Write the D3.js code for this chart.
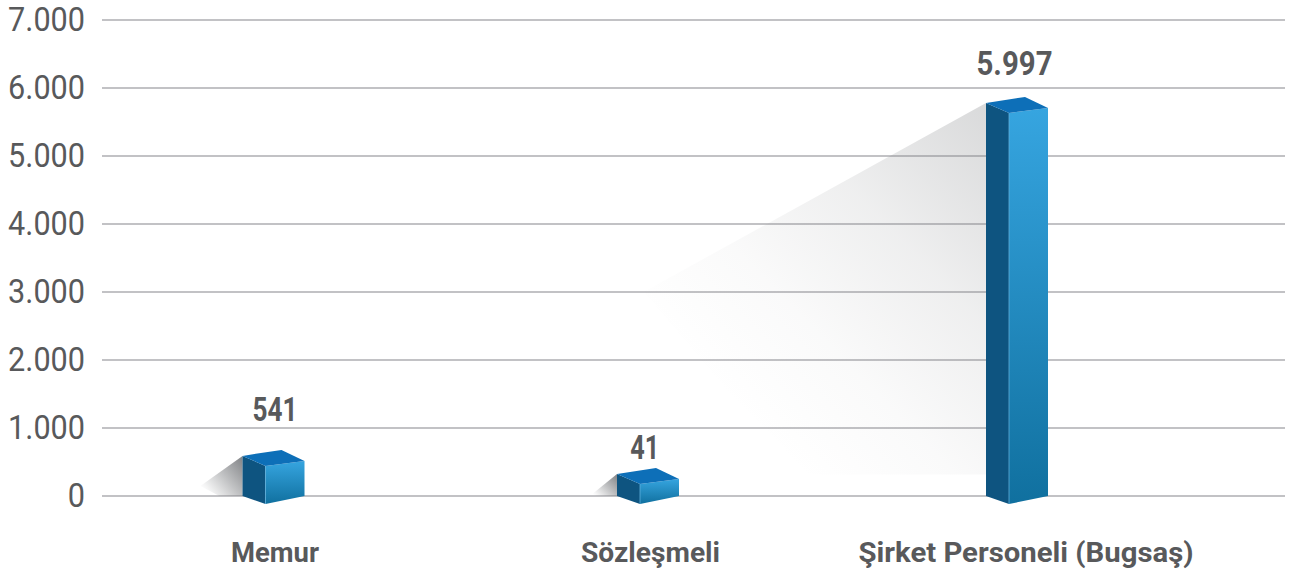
<!DOCTYPE html>
<html>
<head>
<meta charset="utf-8">
<script src="https://cdnjs.cloudflare.com/ajax/libs/d3/7.8.5/d3.min.js"></script>
<style>
  html, body { margin: 0; padding: 0; background: #fff; }
  svg { display: block; }
  text { font-family: Roboto, sans-serif; fill: #58595b; }
</style>
</head>
<body>
<div id="chart"></div>
<script>
"use strict";

// Data
var categories = ["Memur", "Sözleşmeli", "Şirket Personeli (Bugsaş)"];
var values = [541, 41, 5997];
// the boxes are not drawn true to their labels, this is the level (in axis
// units) that the left top corner of each box reaches in the picture
var drawnLevels = [590, 325, 5780];
var yTicks = [0, 1000, 2000, 3000, 4000, 5000, 6000, 7000];

var width = 1305, height = 576;

var svg = d3.select("#chart").append("svg")
  .attr("width", width)
  .attr("height", height);

var y = d3.scaleLinear().domain([0, 7000]).range([496, 20]);

// boxes, value labels and category labels each sit on a slightly different spacing
var xBox = d3.scalePoint().domain(categories).range([273.5, 1017]);
var xValue = d3.scalePoint().domain(categories).range([275, 1014.5]);
var xLabel = d3.scalePoint().domain(categories).range([275, 1026]);

// hand tuning of the layout, per category
var boxNudge = [0, 2.75, 0];
var valueGap = [35, 15, 28];
var valueWidth = [45, 29, 76];
var labelWidth = [88, 139, 335];

// Turkish number format, 7.000
var fmt = d3.formatLocale({ decimal: ",", thousands: ".", grouping: [3], currency: ["", ""] }).format(",d");

/*
 * Gradients
 */
var defs = svg.append("defs");

var frontGrad = defs.append("linearGradient")
  .attr("id", "frontGrad")
  .attr("x1", 0).attr("y1", 0).attr("x2", 0).attr("y2", 1);
frontGrad.append("stop").attr("offset", "0%").attr("stop-color", "#36a5e0");
frontGrad.append("stop").attr("offset", "100%").attr("stop-color", "#10709f");

// the tall box throws a pale shadow, the small ones a darker one
function shadowGradient(id, endX, stops) {
  var grad = defs.append("linearGradient")
    .attr("id", id)
    .attr("x1", 1).attr("y1", 0).attr("x2", endX).attr("y2", 0.8);
  stops.forEach(function (s) {
    grad.append("stop")
      .attr("offset", s[0])
      .attr("stop-color", "#808285")
      .attr("stop-opacity", s[1]);
  });
}
shadowGradient("shadowTall", 0.25, [[0, 0.3], [0.4, 0.13], [0.72, 0.04], [1, 0]]);
shadowGradient("shadowSmall", 0, [[0, 1], [0.5, 0.5], [0.9, 0.08], [1, 0]]);

/*
 * Grid lines and y axis
 */
var yAxis = d3.axisLeft(y)
  .tickValues(yTicks)
  .tickSize(0)
  .tickPadding(0)
  .tickFormat(function (d) { return fmt(d); });

var gAxis = svg.append("g")
  .attr("class", "axis")
  .attr("transform", "translate(85,0)")
  .call(yAxis);
gAxis.select(".domain").remove();
gAxis.selectAll("text")
  .attr("font-size", 32.4)
  .attr("dy", "0.315em")
  .style("font-family", "Roboto, sans-serif")
  .style("fill", "#58595b")
  .attr("textLength", function () { return this.getComputedTextLength() * 0.945; })
  .attr("lengthAdjust", "spacingAndGlyphs");

var gBox;

var boxes = categories.map(function (c, i) {
  var cx = xBox(c) + boxNudge[i];
  var base = y(0);
  var top = y(drawnLevels[i]);
  return {
    left: cx - 31, frontX: cx - 8, right: cx + 31, backX: cx + 8,
    base: base, top: top, h: base - top
  };
});

function pts(a) {
  return a.map(function (p) { return p[0] + "," + p[1]; }).join(" ");
}

svg.append("g").selectAll("line")
  .data(yTicks)
  .enter()
  .append("line")
  .attr("x1", 102)
  .attr("x2", 1285)
  .attr("y1", function (d) { return y(d); })
  .attr("y2", function (d) { return y(d); })
  .attr("stroke", "#c2c2c5")
  .attr("stroke-width", 1.8);

/*
 * Boxes
 */
gBox = svg.append("g").selectAll("g")
  .data(boxes)
  .enter()
  .append("g");

// shadow falling to the left of the box, sits on top of the grid lines
gBox.append("polygon")
  .attr("points", function (d) {
    var tipX = d.left - (8 + d.h * 0.85);
    var tipY = d.top + (12 + d.h * 0.45);
    var floor = d.h > 100 ? d.base - d.h * 0.055 : d.base;
    return pts([[d.left, d.top], [tipX, tipY], [tipX + (d.left - tipX) * 0.45, floor], [d.left, floor]]);
  })
  .attr("fill", function (d) { return d.h > 100 ? "url(#shadowTall)" : "url(#shadowSmall)"; });

// left face
gBox.append("polygon")
  .attr("points", function (d) {
    return pts([[d.left, d.top], [d.frontX, d.top + 10], [d.frontX, d.base + 8], [d.left, d.base]]);
  })
  .attr("fill", "#0e5480");

// front face
gBox.append("polygon")
  .attr("points", function (d) {
    return pts([[d.frontX, d.top + 10], [d.right, d.top + 5], [d.right, d.base], [d.frontX, d.base + 8]]);
  })
  .attr("fill", "url(#frontGrad)");

// top face
gBox.append("polygon")
  .attr("points", function (d) {
    return pts([[d.left, d.top], [d.backX, d.top - 6], [d.right, d.top + 5], [d.frontX, d.top + 10]]);
  })
  .attr("fill", "#0d6fb8");

// thin light edge between the two faces
gBox.append("line")
  .attr("x1", function (d) { return d.frontX; })
  .attr("x2", function (d) { return d.frontX; })
  .attr("y1", function (d) { return d.top + 10; })
  .attr("y2", function (d) { return d.base + 8; })
  .attr("stroke", "#5fb0dc")
  .attr("stroke-width", 0.8);

/*
 * Value labels
 */
svg.append("g").selectAll("text")
  .data(categories)
  .enter()
  .append("text")
  .attr("x", function (c) { return xValue(c); })
  .attr("y", function (c, i) { return boxes[i].top - valueGap[i]; })
  .attr("text-anchor", "middle")
  .attr("font-size", 33)
  .attr("font-weight", 700)
  .attr("textLength", function (c, i) { return valueWidth[i]; })
  .attr("lengthAdjust", "spacingAndGlyphs")
  .text(function (c, i) { return fmt(values[i]); });

/*
 * Category labels
 */
svg.append("g").selectAll("text")
  .data(categories)
  .enter()
  .append("text")
  .attr("x", function (c) { return xLabel(c); })
  .attr("y", 562)
  .attr("text-anchor", "middle")
  .attr("font-size", 28.5)
  .attr("font-weight", 700)
  .attr("textLength", function (c, i) { return labelWidth[i]; })
  .attr("lengthAdjust", "spacingAndGlyphs")
  .text(function (c) { return c; });
</script>
</body>
</html>
